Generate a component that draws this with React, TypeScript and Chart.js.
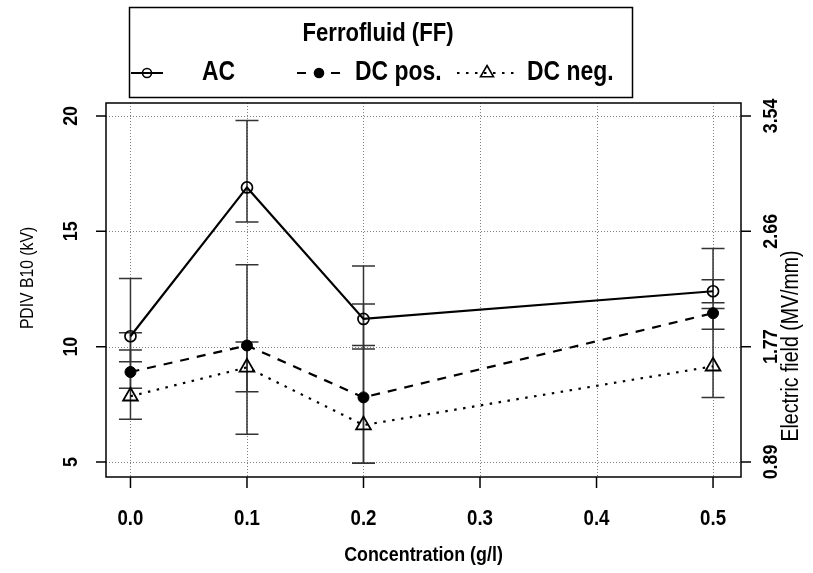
import React, { useEffect, useRef } from "react";
import { Chart, registerables } from "chart.js";

Chart.register(...registerables);

// Ferrofluid PDIV measurements by concentration
const concentrations = [0.0, 0.1, 0.2, 0.5];
const acValues = [10.45, 16.9, 11.2, 12.4];
const dcPosValues = [8.9, 10.05, 7.8, 11.45];
const dcNegValues = [7.85, 9.1, 6.6, 9.15];

// Error bar extents (kV)
const acLow = [9.35, 15.4, 9.9, 11.9];
const acHigh = [12.95, 19.8, 13.5, 12.9];
const dcPosLow = [8.2, 6.2, 4.95, 10.75];
const dcPosHigh = [9.85, 13.55, 10.05, 14.25];
const dcNegLow = [6.85, 8.05, 4.95, 7.8];
const dcNegHigh = [10.6, 10.2, 11.85, 11.65];

const xTickValues = [0, 0.1, 0.2, 0.3, 0.4, 0.5];
const xTickLabels = ["0.0", "0.1", "0.2", "0.3", "0.4", "0.5"];
const yTickValues = [5, 10, 15, 20];
const yTickLabels = ["5", "10", "15", "20"];
const fieldTickLabels = ["0.89", "1.77", "2.66", "3.54"];

const seriesNames = ["AC", "DC pos.", "DC neg."];
const legendTitle = "Ferrofluid (FF)";
const xTitle = "Concentration (g/l)";
const yTitle = "PDIV B10 (kV)";
const y2Title = "Electric field (MV/mm)";

const FONT = '"Liberation Sans", Arial, Helvetica, sans-serif';
const NARROW = 0.85;

const W = 813;
const H = 573;

type Marker = "circle" | "dot" | "triangle";

// condensed text: Liberation Sans squeezed horizontally
function drawText(
  ctx: CanvasRenderingContext2D,
  str: string,
  x: number,
  y: number,
  size: number,
  weight: string,
  angle = 0,
  align: CanvasTextAlign = "center"
) {
  ctx.save();
  ctx.translate(x, y);
  if (angle) ctx.rotate(angle);
  ctx.scale(NARROW, 1);
  ctx.font = `${weight} ${size}px ${FONT}`;
  ctx.textAlign = align;
  ctx.textBaseline = "middle";
  ctx.fillStyle = "#000";
  ctx.fillText(str, 0, 0);
  ctx.restore();
}

function drawMarker(ctx: CanvasRenderingContext2D, kind: Marker, x: number, y: number, r: number, lw: number) {
  ctx.save();
  ctx.setLineDash([]);
  ctx.lineWidth = lw;
  ctx.strokeStyle = "#000";
  ctx.fillStyle = "#000";
  ctx.beginPath();
  if (kind === "triangle") {
    let rad = 0;
    ctx.moveTo(x + Math.sin(rad) * r, y - Math.cos(rad) * r);
    rad += (2 * Math.PI) / 3;
    ctx.lineTo(x + Math.sin(rad) * r, y - Math.cos(rad) * r);
    rad += (2 * Math.PI) / 3;
    ctx.lineTo(x + Math.sin(rad) * r, y - Math.cos(rad) * r);
    ctx.closePath();
    ctx.stroke();
  } else {
    ctx.arc(x, y, r, 0, Math.PI * 2);
    if (kind === "dot") ctx.fill();
    ctx.stroke();
  }
  ctx.restore();
}

const errorBars = [
  { low: acLow, high: acHigh },
  { low: dcPosLow, high: dcPosHigh },
  { low: dcNegLow, high: dcNegHigh },
];

const decorPlugin = {
  id: "decor",
  beforeDraw(chart: any) {
    const { ctx, chartArea: a, scales } = chart;
    ctx.save();
    ctx.fillStyle = "#fff";
    ctx.fillRect(0, 0, W, H);
    // dotted grid
    ctx.strokeStyle = "#808080";
    ctx.lineWidth = 1;
    ctx.setLineDash([1, 2]);
    xTickValues.forEach((v) => {
      const px = Math.round(scales.x.getPixelForValue(v)) + 0.5;
      ctx.beginPath();
      ctx.moveTo(px, a.top);
      ctx.lineTo(px, a.bottom);
      ctx.stroke();
    });
    yTickValues.forEach((v) => {
      const py = Math.round(scales.y.getPixelForValue(v)) + 0.5;
      ctx.beginPath();
      ctx.moveTo(a.left, py);
      ctx.lineTo(a.right, py);
      ctx.stroke();
    });
    ctx.restore();
  },
  beforeDatasetsDraw(chart: any) {
    const { ctx, scales } = chart;
    ctx.save();
    ctx.strokeStyle = "#333";
    ctx.lineWidth = 1.5;
    ctx.setLineDash([]);
    errorBars.forEach((eb) => {
      concentrations.forEach((c, j) => {
        const px = scales.x.getPixelForValue(c);
        const yl = scales.y.getPixelForValue(eb.low[j]);
        const yh = scales.y.getPixelForValue(eb.high[j]);
        ctx.beginPath();
        ctx.moveTo(px, yh);
        ctx.lineTo(px, yl);
        ctx.moveTo(px - 11.5, yh);
        ctx.lineTo(px + 11.5, yh);
        ctx.moveTo(px - 11.5, yl);
        ctx.lineTo(px + 11.5, yl);
        ctx.stroke();
      });
    });
    ctx.restore();
  },
  afterDraw(chart: any) {
    const { ctx, chartArea: a, scales } = chart;
    ctx.save();
    ctx.setLineDash([]);
    ctx.strokeStyle = "#000";
    ctx.fillStyle = "#000";
    ctx.lineWidth = 1.5;
    // plot frame
    ctx.strokeRect(a.left, a.top, a.right - a.left, a.bottom - a.top);

    // x axis ticks & labels
    xTickValues.forEach((v, i) => {
      const px = scales.x.getPixelForValue(v);
      ctx.beginPath();
      ctx.moveTo(px, a.bottom);
      ctx.lineTo(px, a.bottom + 11);
      ctx.stroke();
      drawText(ctx, xTickLabels[i], px, 519, 22, "bold");
    });

    // left and right y ticks & labels
    yTickValues.forEach((v, i) => {
      const py = scales.y.getPixelForValue(v);
      ctx.beginPath();
      ctx.moveTo(a.left, py);
      ctx.lineTo(a.left - 10, py);
      ctx.moveTo(a.right, py);
      ctx.lineTo(a.right + 10, py);
      ctx.stroke();
      drawText(ctx, yTickLabels[i], 71, py, 21, "bold", -Math.PI / 2);
      drawText(ctx, fieldTickLabels[i], 771, py, 21, "bold", -Math.PI / 2);
    });

    // axis titles
    drawText(ctx, xTitle, (a.left + a.right) / 2, 555, 21, "bold");
    drawText(ctx, yTitle, 28, 278, 18.5, "normal", -Math.PI / 2);
    drawText(ctx, y2Title, 792, 346, 23, "normal", -Math.PI / 2);

    // legend box
    ctx.lineWidth = 1.5;
    ctx.strokeRect(129.5, 7.5, 503, 90);
    drawText(ctx, legendTitle, 378, 34, 26, "bold");

    const rowY = 73;
    const items = [
      { x0: 131, x1: 163, mx: 147, tx: 202, dash: [] as number[], marker: "circle" as Marker, r: 4.5 },
      { x0: 297, x1: 340, mx: 319, tx: 355, dash: [9, 8], marker: "dot" as Marker, r: 4.5 },
      { x0: 457, x1: 517, mx: 487, tx: 527, dash: [2.5, 6.5], marker: "triangle" as Marker, r: 7.5 },
    ];
    items.forEach((it, i) => {
      ctx.save();
      ctx.lineWidth = 2;
      ctx.setLineDash(it.dash);
      ctx.beginPath();
      ctx.moveTo(it.x0, rowY);
      ctx.lineTo(it.x1, rowY);
      ctx.stroke();
      ctx.restore();
      drawMarker(ctx, it.marker, it.mx, rowY, it.r, 1.6);
      drawText(ctx, seriesNames[i], it.tx, rowY, 27, "bold", 0, "left");
    });
    ctx.restore();
  },
};

export default function App() {
  const canvasRef = useRef<HTMLCanvasElement | null>(null);

  useEffect(() => {
    const canvas = canvasRef.current;
    if (!canvas) return;
    const toPoints = (ys: number[]) => concentrations.map((x, i) => ({ x, y: ys[i] }));
    const chart = new Chart(canvas, {
      type: "scatter",
      data: {
        datasets: [
          {
            label: seriesNames[0],
            data: toPoints(acValues),
            showLine: true,
            borderColor: "#000",
            borderWidth: 2.2,
            pointStyle: "circle",
            pointRadius: 5.5,
            pointBorderWidth: 1.7,
            pointBorderColor: "#000",
            pointBackgroundColor: "rgba(0,0,0,0)",
          },
          {
            label: seriesNames[1],
            data: toPoints(dcPosValues),
            showLine: true,
            borderColor: "#000",
            borderWidth: 2.2,
            borderDash: [9, 8],
            pointStyle: "circle",
            pointRadius: 5.5,
            pointBorderWidth: 1,
            pointBorderColor: "#000",
            pointBackgroundColor: "#000",
          },
          {
            label: seriesNames[2],
            data: toPoints(dcNegValues),
            showLine: true,
            borderColor: "#000",
            borderWidth: 2.2,
            borderDash: [2.5, 6.5],
            pointStyle: "triangle",
            pointRadius: 8.5,
            pointBorderWidth: 1.8,
            pointBorderColor: "#000",
            pointBackgroundColor: "rgba(0,0,0,0)",
          },
        ],
      },
      options: {
        responsive: false,
        animation: false,
        devicePixelRatio: 1,
        layout: { padding: { left: 106, top: 103, right: W - 741, bottom: H - 477 } },
        plugins: { legend: { display: false }, tooltip: { enabled: false } },
        scales: {
          x: { type: "linear", display: false, min: -0.021, max: 0.524 },
          y: { type: "linear", display: false, min: 4.35, max: 20.56 },
        },
      },
      plugins: [decorPlugin],
    });
    return () => chart.destroy();
  }, []);

  return (
    <div style={{ position: "absolute", left: 0, top: 0, width: W, height: H, background: "#fff" }}>
      <canvas ref={canvasRef} width={W} height={H} style={{ display: "block" }} />
    </div>
  );
}
